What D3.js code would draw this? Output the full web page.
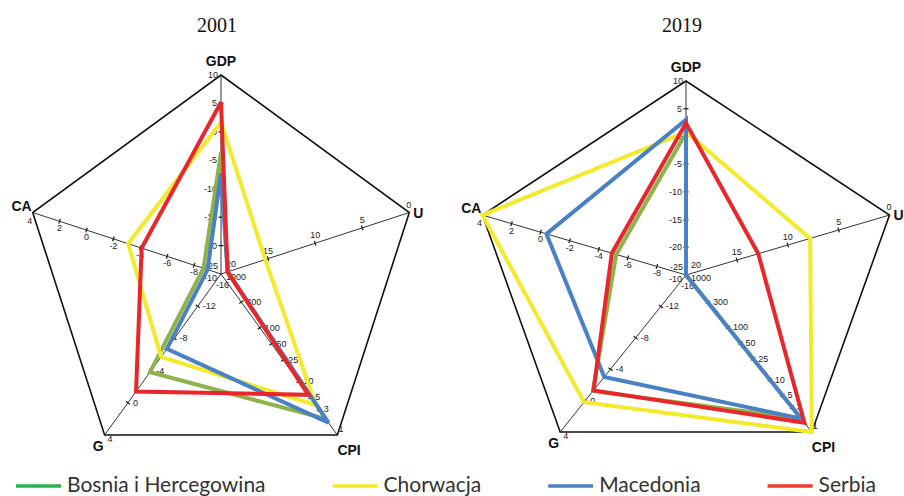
<!DOCTYPE html>
<html><head><meta charset="utf-8">
<script src="https://cdn.jsdelivr.net/npm/d3@7"></script>
<style>body{margin:0;background:#fff}svg{display:block}</style>
</head><body>
<svg id="c" width="904" height="496"></svg>
<script>
// ---------- data ----------
const axisNames = ["GDP", "U", "CPI", "G", "CA"];
const years = ["2001", "2019"];
const countries = ["Bosnia i Hercegowina", "Chorwacja", "Macedonia", "Serbia"];
// values in axis order: GDP, U, CPI, G, CA
const bosnia2001    = [-3.6, 19.3, 2.0, -3.8, -8.7];
const croatia2001   = [ 1.7, 15.3, 3.6, -5.7, -3.1];
const macedonia2001 = [-7.3, 19.3, 1.7, -6.7, -9.0];
const serbia2001    = [ 5.2, 19.3, 5.6, -1.4, -4.1];
const bosnia2019    = [ 0.6, 20.0, 1.8, -1.2, -5.2];
const croatia2019   = [ 0.8,  7.8, 1.0,  0.2,  4.0];
const macedonia2019 = [ 3.0, 20.0, 1.8, -3.0, -0.4];
const serbia2019    = [ 2.4, 12.9, 1.5, -1.3, -4.9];
// tick labels per axis
const gdpTicks = [10, 5, 0, -5, -10, -15, -20, -25];
const uTicks   = [0, 5, 10, 15, 20];
const cpiTicks = [1, 3, 5, 10, 25, 50, 100, 300, 1000];
const gTicks   = [4, 0, -4, -8, -12, -16];
const caTicks  = [4, 2, 0, -2, -4, -6, -8, -10];

// ---------- styles / layout ----------
const lineColors   = ["#8db34a", "#f3ea2c", "#4a80c4", "#e8262b"];
const legendColors = ["#2bb24c", "#f4e92a", "#4a80c4", "#ee3e26"];

const yearSeries = [
  [bosnia2001, croatia2001, macedonia2001, serbia2001],
  [bosnia2019, croatia2019, macedonia2019, serbia2019]
];
const axisTicks = [gdpTicks, uTicks, cpiTicks, gTicks, caTicks];

// each axis maps its value to a fraction of the radius (0 = centre, 1 = vertex)
const axisScales = [
  d3.scaleLinear().domain([-25, 10]).range([0, 1]).clamp(true),
  d3.scaleLinear().domain([20, 0]).range([0, 1]).clamp(true),
  d3.scaleLog().domain([1000, 1]).range([0, 1]).clamp(true),
  d3.scaleLinear().domain([-16, 4]).range([0, 1]).clamp(true),
  d3.scaleLinear().domain([-10, 4]).range([0, 1]).clamp(true)
];

const panels = [
  {cx: 221, cy: 274, rx: 198, ry: 199},
  {cx: 686, cy: 275, rx: 214, ry: 194}
];

// label offsets (dx, dy, anchor) for ordinary ticks, vertex ticks, centre ticks
const tickStyle = [
  {n: [-4, 3, "end"],   v: [-3, 3, "end"],    c: [-3, -5, "end"]},
  {n: [0, -5, "middle"],v: [2, -5, "end"],    c: [5, -7, "start"]},
  {n: [5, 3, "start"],  v: [1, -3, "start"],  c: [5, 6, "start"]},
  {n: [5, 3, "start"],  v: [3, 7, "start"],   c: [-5, 14, "start"]},
  {n: [0, 10, "middle"],v: [-3, 11, "middle"], c: [-4, 7, "end"]}
];
const nameStyle = [
  [0, -9, "middle"], [4, 5, "start"], [0, 20, "start"], [-1, 16, "end"], [-1, -2, "end"]
];

const svg = d3.select("#c");
const angles = axisNames.map((d, i) => (-90 + 72 * i) * Math.PI / 180);

panels.forEach((p, pi) => {
  const xS = d3.scaleLinear().domain([-1, 1]).range([p.cx - p.rx, p.cx + p.rx]);
  const yS = d3.scaleLinear().domain([-1, 1]).range([p.cy - p.ry, p.cy + p.ry]);
  const pt = (i, f) => [xS(f * Math.cos(angles[i])), yS(f * Math.sin(angles[i]))];
  const g = svg.append("g");

  // title
  g.append("text").attr("x", p.cx - 4).attr("y", 32).attr("text-anchor", "middle")
    .attr("font-family", "Liberation Serif, serif").attr("font-size", 20).attr("fill", "#111")
    .text(years[pi]);

  // outer pentagon
  g.append("path")
    .attr("d", d3.line()(axisNames.map((d, i) => pt(i, 1))) + "Z")
    .attr("fill", "none").attr("stroke", "#111").attr("stroke-width", 1.6);

  // spokes
  axisNames.forEach((d, i) => {
    const [x1, y1] = pt(i, 0), [x2, y2] = pt(i, 1);
    g.append("line").attr("x1", x1).attr("y1", y1).attr("x2", x2).attr("y2", y2)
      .attr("stroke", "#333").attr("stroke-width", 1);
  });

  // ticks and tick labels
  axisNames.forEach((d, i) => {
    const s = axisScales[i];
    const ca = Math.cos(angles[i]), sa = Math.sin(angles[i]);
    axisTicks[i].forEach(v => {
      const f = s(v);
      const [x, y] = pt(i, f);
      const kind = f < 0.01 ? "c" : (f > 0.99 ? "v" : "n");
      if (kind === "n") {
        g.append("line")
          .attr("x1", x - sa * 2.5).attr("y1", y + ca * 2.5)
          .attr("x2", x + sa * 2.5).attr("y2", y - ca * 2.5)
          .attr("stroke", "#222").attr("stroke-width", 1.3);
      }
      const [dx, dy, anc] = tickStyle[i][kind];
      g.append("text").attr("x", x + dx).attr("y", y + dy).attr("text-anchor", anc)
        .attr("font-family", "Liberation Sans, Arial, sans-serif").attr("font-size", 9)
        .attr("fill", "#222").text(v);
    });
    // axis name
    const [x, y] = pt(i, 1);
    const [dx, dy, anc] = nameStyle[i];
    g.append("text").attr("x", x + dx).attr("y", y + dy).attr("text-anchor", anc)
      .attr("font-family", "Liberation Sans, Arial, sans-serif").attr("font-weight", "bold")
      .attr("font-size", 14).attr("fill", "#111").text(d);
  });

  // series polygons
  yearSeries[pi].forEach((vals, ci) => {
    const pts = vals.map((v, i) => pt(i, axisScales[i](v)));
    g.append("path").attr("d", d3.line()(pts) + "Z")
      .attr("fill", "none").attr("stroke", lineColors[ci]).attr("stroke-width", 4)
      .attr("stroke-linejoin", "miter").attr("stroke-miterlimit", 2.5);
  });
});

// legend
const leg = svg.append("g");
let lx = 16;
countries.forEach((c, i) => {
  leg.append("line").attr("x1", lx).attr("x2", lx + 45).attr("y1", 486).attr("y2", 486)
    .attr("stroke", legendColors[i]).attr("stroke-width", 3.5);
  const t = leg.append("text").attr("x", lx + 51).attr("y", 491.5)
    .attr("font-family", "Lato, 'Open Sans', sans-serif").attr("font-size", 21)
    .attr("fill", "#333").text(c);
  lx += 51 + t.node().getComputedTextLength() + 67;
});
</script>
</body></html>
